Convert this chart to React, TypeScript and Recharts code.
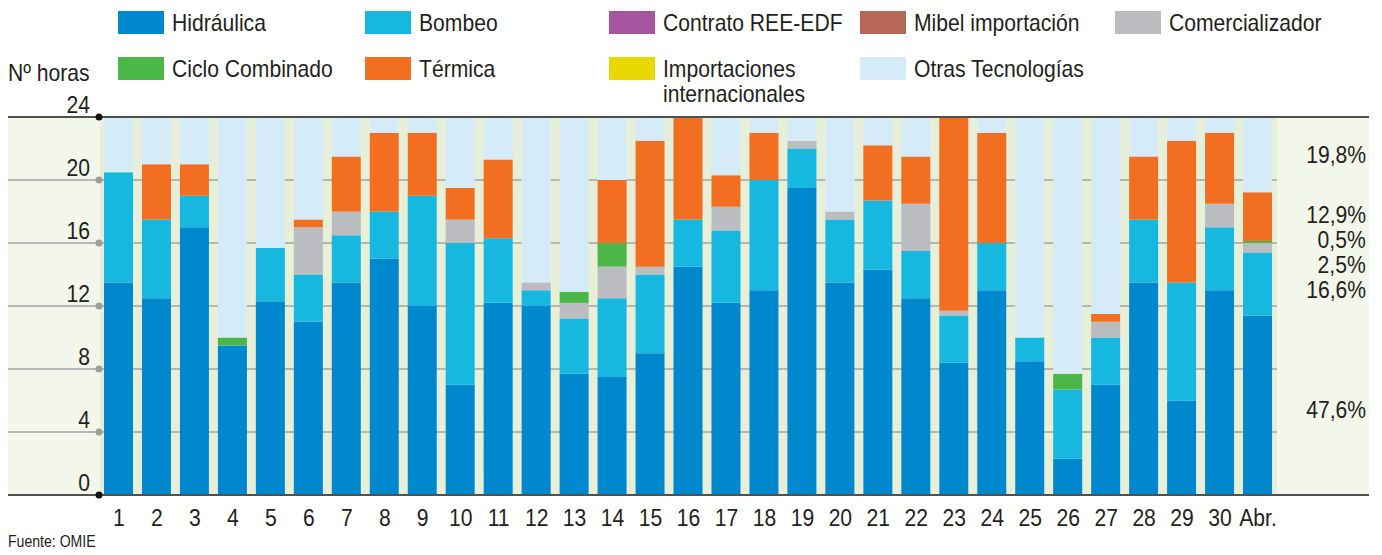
import { BarChart, Bar, XAxis, YAxis, CartesianGrid } from 'recharts'

const days = ['1', '2', '3', '4', '5', '6', '7', '8', '9', '10', '11', '12', '13', '14', '15', '16', '17', '18', '19', '20', '21', '22', '23', '24', '25', '26', '27', '28', '29', '30', 'Abr.']

const hidraulica = [13.5, 12.5, 17, 9.5, 12.3, 11, 13.5, 15, 12, 7, 12.2, 12, 7.7, 7.5, 9, 14.5, 12.2, 13, 19.5, 13.5, 14.3, 12.5, 8.4, 13, 8.5, 2.3, 7, 13.5, 6, 13, 11.4]
const bombeo = [7, 5, 2, 0, 3.4, 3, 3, 3, 7, 9, 4.1, 1, 3.5, 5, 5, 3, 4.6, 7, 2.5, 4, 4.4, 3, 3, 3, 1.5, 4.4, 3, 4, 7.5, 4, 4]
const contratoReeEdf = [0, 0, 0, 0, 0, 0, 0, 0, 0, 0, 0, 0, 0, 0, 0, 0, 0, 0, 0, 0, 0, 0, 0, 0, 0, 0, 0, 0, 0, 0, 0]
const mibelImportacion = [0, 0, 0, 0, 0, 0, 0, 0, 0, 0, 0, 0, 0, 0, 0, 0, 0, 0, 0, 0, 0, 0, 0, 0, 0, 0, 0, 0, 0, 0, 0]
const comercializador = [0, 0, 0, 0, 0, 3, 1.5, 0, 0, 1.5, 0, 0.5, 1, 2, 0.5, 0, 1.5, 0, 0.5, 0.5, 0, 3, 0.3, 0, 0, 0, 1, 0, 0, 1.5, 0.6]
const cicloCombinado = [0, 0, 0, 0.5, 0, 0, 0, 0, 0, 0, 0, 0, 0.7, 1.5, 0, 0, 0, 0, 0, 0, 0, 0, 0, 0, 0, 1, 0, 0, 0, 0, 0.12]
const importaciones = [0, 0, 0, 0, 0, 0, 0, 0, 0, 0, 0, 0, 0, 0, 0, 0, 0, 0, 0, 0, 0, 0, 0, 0, 0, 0, 0, 0, 0, 0, 0]
const termica = [0, 3.5, 2, 0, 0, 0.5, 3.5, 5, 4, 2, 5, 0, 0, 4, 8, 6.5, 2, 3, 0, 0, 3.5, 3, 12.3, 7, 0, 0, 0.5, 4, 9, 4.5, 3.1]
const otras = [3.5, 3, 3, 14, 8.3, 6.5, 2.5, 1, 1, 4.5, 2.7, 10.5, 11.1, 4, 1.5, 0, 3.7, 1, 1.5, 6, 1.8, 2.5, 0, 1, 14, 16.3, 12.5, 2.5, 1.5, 1, 4.78]

const yTicks = [0, 4, 8, 12, 16, 20, 24]
const abrShares = ['19,8%', '12,9%', '0,5%', '2,5%', '16,6%', '47,6%']

const series = [
  { key: 'hidraulica', name: 'Hidráulica', color: '#0088cf', values: hidraulica },
  { key: 'bombeo', name: 'Bombeo', color: '#16b8e0', values: bombeo },
  { key: 'contrato', name: 'Contrato REE-EDF', color: '#a855a0', values: contratoReeEdf },
  { key: 'mibel', name: 'Mibel importación', color: '#b86856', values: mibelImportacion },
  { key: 'comercializador', name: 'Comercializador', color: '#bbbcc0', values: comercializador },
  { key: 'ciclo', name: 'Ciclo Combinado', color: '#4bb748', values: cicloCombinado },
  { key: 'importaciones', name: 'Importaciones\ninternacionales', color: '#e8d800', values: importaciones },
  { key: 'termica', name: 'Térmica', color: '#f26f22', values: termica },
  { key: 'otras', name: 'Otras Tecnologías', color: '#d5ecf8', values: otras },
]

// legend grid: [row, col] per series
const legendSlots: Record<string, [number, number]> = {
  hidraulica: [0, 0], bombeo: [0, 1], contrato: [0, 2], mibel: [0, 3], comercializador: [0, 4],
  ciclo: [1, 0], termica: [1, 1], importaciones: [1, 2], otras: [1, 3],
}
const legendCols = [118, 365, 609, 860, 1115]
const legendRows = [11, 57]
const shareTops = [155, 215, 240, 265, 290, 410]

const data = days.map((day, i) => {
  const row: Record<string, string | number> = { day }
  series.forEach(s => { row[s.key] = s.values[i] })
  return row
})

const FONT = '"Liberation Sans", Arial, sans-serif'
const NARROW = 0.88
const PLOT_LEFT = 100
const PLOT_RIGHT = 1277
const FRAME_LEFT = 8
const FRAME_RIGHT = 1369

const narrow = (origin: string) => ({ display: 'inline-block', transform: `scaleX(${NARROW})`, transformOrigin: origin })

function YTick({ y, payload }: any) {
  const edge = payload.value === 0 || payload.value === 24
  return (
    <g>
      {edge
        ? <line x1={FRAME_LEFT} x2={FRAME_RIGHT} y1={y} y2={y} stroke="#505050" strokeWidth={2} />
        : <line x1={FRAME_LEFT} x2={PLOT_LEFT} y1={y} y2={y} stroke="#a3a3a3" strokeWidth={1.5} />}
      <circle cx={PLOT_LEFT - 1} cy={y} r={3.5} fill={edge ? '#111' : '#9d9d9d'} />
      <text transform={`translate(90,${y - 4}) scale(${NARROW},1)`} textAnchor="end" fontFamily={FONT} fontSize={24} fill="#231f20">{payload.value}</text>
    </g>
  )
}

function XTick({ x, y, payload }: any) {
  return (
    <text transform={`translate(${x},${y + 23}) scale(${NARROW},1)`} textAnchor="middle" fontFamily={FONT} fontSize={24} fill="#231f20">{payload.value}</text>
  )
}

export default function App() {
  return (
    <div style={{ position: 'relative', width: 1382, height: 555, margin: -8, background: '#fff', fontFamily: FONT, color: '#231f20', overflow: 'hidden' }}>
      <div style={{ position: 'absolute', left: FRAME_LEFT, top: 117, width: FRAME_RIGHT - FRAME_LEFT, height: 378, background: '#f3f6ea' }} />
      <BarChart width={1382} height={555} data={data} margin={{ top: 117, right: 1382 - PLOT_RIGHT, bottom: 30, left: 0 }}>
        <CartesianGrid vertical={false} fill="#e7efd9" stroke="#a3a3a3" strokeWidth={1.5} />
        {series.map(s => (
          <Bar key={s.key} dataKey={s.key} name={s.name} stackId="a" fill={s.color} barSize={29} isAnimationActive={false} />
        ))}
        <XAxis dataKey="day" height={30} axisLine={false} tickLine={false} interval={0} tick={<XTick />} />
        <YAxis width={PLOT_LEFT} domain={[0, 24]} ticks={yTicks} interval={0} axisLine={false} tickLine={false} tick={<YTick />} allowDataOverflow />
      </BarChart>

      <div style={{ position: 'absolute', left: 8, top: 59, fontSize: 24, lineHeight: '28px' }}>
        <span style={narrow('left')}>Nº horas</span>
      </div>

      {series.map(s => {
        const [r, c] = legendSlots[s.key]
        return (
          <div key={s.key} style={{ position: 'absolute', left: legendCols[c], top: legendRows[r], display: 'flex', alignItems: 'flex-start' }}>
            <div style={{ width: 46, height: 23, background: s.color, flex: 'none' }} />
            <div style={{ marginLeft: 8, fontSize: 24, lineHeight: '25px', whiteSpace: 'pre', marginTop: -1, ...narrow('left') }}>{s.name}</div>
          </div>
        )
      })}

      {abrShares.map((t, i) => (
        <div key={t} style={{ position: 'absolute', right: 16, top: shareTops[i] - 14, fontSize: 24, lineHeight: '28px' }}>
          <span style={narrow('right')}>{t}</span>
        </div>
      ))}

      <div style={{ position: 'absolute', left: 8, top: 533, fontSize: 16, lineHeight: '18px' }}>
        <span style={narrow('left')}>Fuente: OMIE</span>
      </div>
    </div>
  )
}
